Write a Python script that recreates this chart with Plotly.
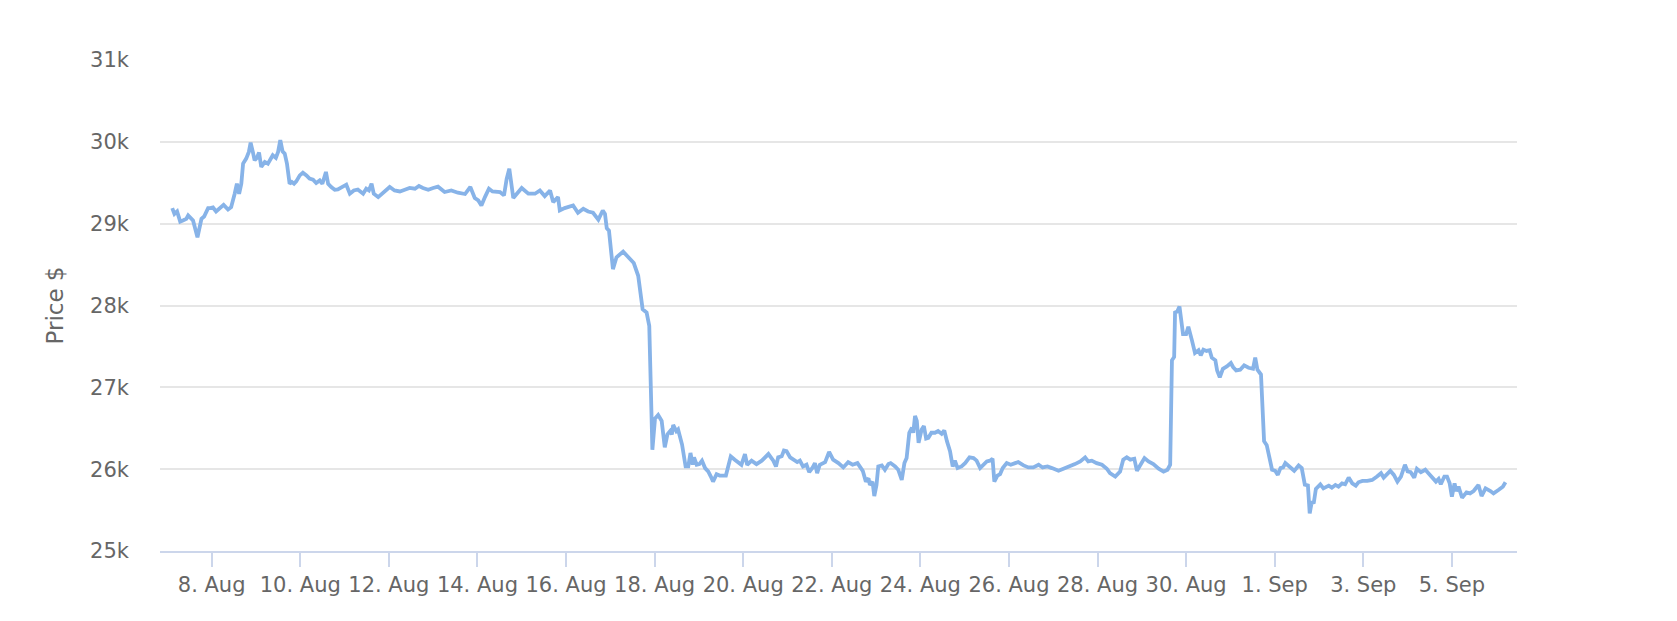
import pandas as pd
import plotly.graph_objects as go

# Time of each reading, in days counted from 8 Aug 2023 00:00
days_from_aug8 = [
    -0.89, -0.84, -0.78, -0.71, -0.65, -0.57, -0.53, -0.48, -0.42, -0.32,
    -0.23, -0.17, -0.08, -0.03, 0.03, 0.10, 0.18, 0.27, 0.37, 0.44,
    0.52, 0.57, 0.62, 0.67, 0.71, 0.78, 0.84, 0.88, 0.93, 0.97,
    1.02, 1.07, 1.12, 1.20, 1.27, 1.33, 1.38, 1.45, 1.50, 1.55,
    1.60, 1.65, 1.70, 1.76, 1.81, 1.86, 1.91, 1.99, 2.06, 2.14,
    2.21, 2.29, 2.36, 2.44, 2.50, 2.58, 2.63, 2.70, 2.78, 2.85,
    2.95, 3.04, 3.12, 3.21, 3.30, 3.42, 3.49, 3.55, 3.61, 3.66,
    3.76, 3.87, 4.02, 4.13, 4.25, 4.36, 4.47, 4.59, 4.68, 4.77,
    4.89, 5.00, 5.11, 5.26, 5.41, 5.56, 5.72, 5.84, 5.94, 6.02,
    6.09, 6.17, 6.26, 6.34, 6.43, 6.51, 6.60, 6.66, 6.72, 6.81,
    7.00, 7.15, 7.30, 7.41, 7.52, 7.64, 7.71, 7.82, 7.86, 7.97,
    8.16, 8.27, 8.39, 8.50, 8.61, 8.73, 8.83, 8.88, 8.92, 8.97,
    9.06, 9.14, 9.29, 9.43, 9.53, 9.63, 9.73, 9.82, 9.88, 9.95,
    10.01, 10.08, 10.16, 10.23, 10.29, 10.35, 10.39, 10.42, 10.49, 10.53,
    10.57, 10.62, 10.70, 10.76, 10.81, 10.86, 10.89, 10.95, 11.01, 11.07,
    11.14, 11.21, 11.27, 11.32, 11.40, 11.47, 11.61, 11.66, 11.72, 11.81,
    11.89, 11.96, 12.04, 12.09, 12.19, 12.30, 12.42, 12.57, 12.68, 12.74,
    12.79, 12.87, 12.92, 12.98, 13.06, 13.13, 13.22, 13.28, 13.35, 13.43,
    13.49, 13.57, 13.62, 13.67, 13.73, 13.85, 13.94, 14.03, 14.15, 14.26,
    14.37, 14.47, 14.58, 14.70, 14.77, 14.83, 14.86, 14.92, 14.96, 15.01,
    15.05, 15.13, 15.20, 15.28, 15.33, 15.43, 15.50, 15.58, 15.64, 15.69,
    15.75, 15.81, 15.84, 15.88, 15.92, 15.96, 16.03, 16.08, 16.13, 16.18,
    16.25, 16.33, 16.40, 16.48, 16.54, 16.60, 16.67, 16.73, 16.78, 16.84,
    16.93, 17.01, 17.11, 17.20, 17.27, 17.35, 17.42, 17.50, 17.57, 17.63,
    17.67, 17.74, 17.80, 17.86, 17.95, 18.04, 18.14, 18.21, 18.33, 18.44,
    18.55, 18.67, 18.76, 18.87, 18.97, 19.12, 19.23, 19.38, 19.49, 19.61,
    19.72, 19.79, 19.87, 19.98, 20.10, 20.21, 20.28, 20.40, 20.51, 20.58,
    20.66, 20.74, 20.83, 20.89, 20.96, 21.06, 21.15, 21.26, 21.38, 21.49,
    21.58, 21.64, 21.68, 21.73, 21.75, 21.80, 21.85, 21.93, 22.00, 22.05,
    22.13, 22.20, 22.28, 22.33, 22.39, 22.46, 22.53, 22.58, 22.66, 22.70,
    22.76, 22.83, 22.92, 23.01, 23.06, 23.13, 23.22, 23.31, 23.41, 23.51,
    23.56, 23.61, 23.69, 23.76, 23.82, 23.94, 24.01, 24.07, 24.13, 24.19,
    24.24, 24.34, 24.44, 24.48, 24.54, 24.61, 24.68, 24.75, 24.79, 24.84,
    24.88, 24.93, 24.97, 25.03, 25.10, 25.22, 25.29, 25.37, 25.44, 25.52,
    25.59, 25.67, 25.75, 25.83, 25.89, 25.98, 26.09, 26.20, 26.31, 26.40,
    26.46, 26.54, 26.61, 26.69, 26.77, 26.85, 26.94, 27.00, 27.07, 27.15,
    27.21, 27.30, 27.40, 27.47, 27.57, 27.64, 27.70, 27.75, 27.83, 27.89,
    27.95, 28.00, 28.06, 28.10, 28.15, 28.23, 28.33, 28.41, 28.49, 28.60,
    28.67, 28.76, 28.87, 28.94, 29.05, 29.15, 29.21,
]

# Price in USD at each reading
prices = [
    29190, 29120, 29150, 29026, 29040, 29060, 29100, 29067, 29038, 28834,
    29059, 29087, 29190, 29190, 29198, 29150, 29182, 29230, 29173, 29202,
    29366, 29488, 29366, 29488, 29734, 29795, 29877, 29991, 29877, 29774,
    29804, 29869, 29693, 29755, 29734, 29787, 29836, 29804, 29877, 30020,
    29885, 29856, 29734, 29488, 29509, 29488, 29517, 29590, 29623, 29590,
    29550, 29537, 29497, 29529, 29488, 29632, 29488, 29448, 29415, 29418,
    29448, 29476, 29366, 29406, 29418, 29366, 29427, 29406, 29488, 29366,
    29325, 29378, 29448, 29406, 29394, 29415, 29436, 29427, 29460, 29436,
    29415, 29436, 29452, 29387, 29406, 29378, 29362, 29448, 29313, 29284,
    29222, 29325, 29427, 29394, 29386, 29387, 29345, 29546, 29672, 29313,
    29436, 29366, 29366, 29406, 29337, 29406, 29264, 29325, 29161, 29190,
    29222, 29133, 29182, 29149, 29133, 29050, 29161, 29120, 28945, 28915,
    28445, 28589, 28658, 28577, 28519, 28363, 27955, 27914, 27750, 26237,
    26620, 26663, 26589, 26268, 26425, 26465, 26425, 26540, 26465, 26486,
    26383, 26301, 26033, 26033, 26198, 26054, 26144, 26054, 26062, 26104,
    26013, 25972, 25910, 25848, 25938, 25922, 25922, 26033, 26157, 26116,
    26086, 26054, 26185, 26054, 26104, 26062, 26104, 26185, 26104, 26033,
    26144, 26157, 26227, 26219, 26144, 26116, 26086, 26104, 26033, 26054,
    25963, 26021, 26074, 25951, 26054, 26086, 26210, 26116, 26074, 26021,
    26086, 26054, 26074, 25980, 25848, 25889, 25807, 25848, 25671, 25807,
    26033, 26046, 25993, 26062, 26074, 26033, 25993, 25869, 26074, 26136,
    26445, 26507, 26445, 26651, 26589, 26321, 26486, 26527, 26375, 26383,
    26445, 26445, 26465, 26432, 26474, 26342, 26219, 26033, 26104, 26013,
    26033, 26074, 26144, 26136, 26104, 26013, 26054, 26095, 26104, 26128,
    25848, 25920, 25940, 26013, 26074, 26054, 26074, 26086, 26046, 26021,
    26021, 26054, 26021, 26033, 26013, 25980, 26005, 26033, 26062, 26095,
    26144, 26095, 26104, 26074, 26054, 26005, 25951, 25910, 25972, 26116,
    26144, 26116, 26128, 25980, 26054, 26136, 26095, 26062, 26005, 25970,
    25993, 26054, 27330, 27371, 27914, 27926, 27988, 27651, 27651, 27741,
    27577, 27420, 27453, 27391, 27461, 27445, 27453, 27362, 27330, 27206,
    27123, 27227, 27256, 27297, 27248, 27206, 27215, 27268, 27239, 27227,
    27362, 27215, 27157, 26342, 26293, 25993, 25980, 25930, 26013, 26021,
    26074, 26033, 25980, 26005, 26046, 26013, 25810, 25800, 25460, 25610,
    25580, 25760, 25786, 25815, 25766, 25799, 25774, 25807, 25786, 25827,
    25815, 25897, 25827, 25799, 25840, 25856, 25856, 25868, 25910, 25951,
    25897, 25938, 25980, 25930, 25848, 25910, 26054, 25972, 25963, 25897,
    26005, 25963, 25993, 25951, 25881, 25848, 25881, 25815, 25910, 25910,
    25827, 25663, 25827, 25733, 25786, 25651, 25717, 25704, 25733, 25807,
    25671, 25766, 25733, 25704, 25745, 25786, 25840,
]

x_tick_dates = [
    "2023-08-08", "2023-08-10", "2023-08-12", "2023-08-14", "2023-08-16",
    "2023-08-18", "2023-08-20", "2023-08-22", "2023-08-24", "2023-08-26",
    "2023-08-28", "2023-08-30", "2023-09-01", "2023-09-03", "2023-09-05",
]
x_tick_labels = [
    "8. Aug", "10. Aug", "12. Aug", "14. Aug", "16. Aug", "18. Aug", "20. Aug",
    "22. Aug", "24. Aug", "26. Aug", "28. Aug", "30. Aug", "1. Sep", "3. Sep",
    "5. Sep",
]
y_tick_values = [25000, 26000, 27000, 28000, 29000, 30000, 31000]
y_tick_labels = ["25k", "26k", "27k", "28k", "29k", "30k", "31k"]

origin = pd.Timestamp("2023-08-08")
times = origin + pd.to_timedelta(days_from_aug8, unit="D")
x_start = origin + pd.to_timedelta(-1.166, unit="D")
x_end = origin + pd.to_timedelta(29.47, unit="D")

FONT = "DejaVu Sans"

fig = go.Figure()
fig.add_trace(go.Scatter(
    x=times, y=prices, mode="lines",
    line=dict(color="#87b3e8", width=3.8),
    hoverinfo="x+y", showlegend=False,
))

fig.update_layout(
    width=1677, height=621,
    margin=dict(l=160, r=160, t=60, b=70),
    paper_bgcolor="#ffffff", plot_bgcolor="#ffffff",
    font=dict(family=FONT, color="#666666", size=19),
)
fig.update_xaxes(
    type="date", range=[x_start, x_end],
    tickmode="array", tickvals=pd.to_datetime(x_tick_dates), ticktext=x_tick_labels,
    showgrid=False, zeroline=False,
    showline=True, linecolor="#ccd6eb", linewidth=1.5,
    ticks="outside", ticklen=14, tickwidth=1.5, tickcolor="#ccd6eb",
    tickfont=dict(family=FONT, size=21, color="#666666"),
)
fig.update_yaxes(
    range=[25000, 31000],
    tickmode="array", tickvals=y_tick_values, ticktext=y_tick_labels,
    showgrid=True, gridcolor="#e6e6e6", gridwidth=1.5,
    zeroline=False, showline=False, ticks="",
    ticklabelstandoff=30,
    tickfont=dict(family=FONT, size=21, color="#666666"),
    title=dict(text="Price $", font=dict(family=FONT, size=23, color="#666666"), standoff=20),
)

fig.write_html(
    "out.html",
    config={"displayModeBar": False},
    post_script="document.body.style.margin='0px';",
)
